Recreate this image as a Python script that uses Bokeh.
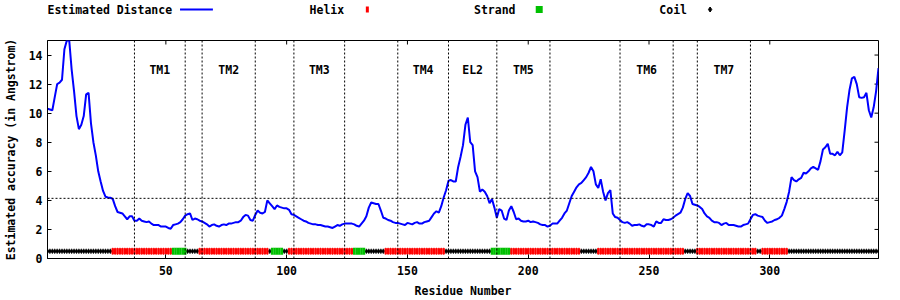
import math
from bokeh.plotting import figure
from bokeh.models import Range1d, Span, FixedTicker
from bokeh.layouts import column
from bokeh.core.properties import value
from bokeh.embed import file_html
from bokeh.resources import INLINE

# ---------------- data ----------------
residues = list(range(1, 346))
distance = [
    10.3, 10.25, 10.2, 11.1, 12.0, 12.1, 12.3, 14.4, 15.0, 15.0,
    13.0, 11.5, 9.8, 8.9, 9.2, 9.8, 11.3, 11.4, 9.3, 8.0,
    7.1, 6.0, 5.3, 4.65, 4.25, 4.2, 4.18, 4.1, 3.6, 3.2,
    3.15, 3.1, 2.9, 2.7, 2.9, 2.9, 2.6, 2.6, 2.75, 2.6,
    2.55, 2.5, 2.55, 2.4, 2.3, 2.3, 2.3, 2.2, 2.2, 2.2,
    2.1, 2.05, 2.3, 2.35, 2.4, 2.5, 2.7, 2.95, 3.05, 3.1,
    2.65, 2.75, 2.7, 2.6, 2.55, 2.45, 2.35, 2.2, 2.3, 2.35,
    2.25, 2.2, 2.3, 2.35, 2.3, 2.4, 2.4, 2.45, 2.5, 2.5,
    2.6, 2.85, 3.0, 2.95, 2.65, 2.6, 3.0, 3.3, 3.15, 3.1,
    3.2, 4.0, 3.8, 3.6, 3.4, 3.65, 3.55, 3.5, 3.45, 3.45,
    3.35, 3.05, 3.0, 2.9, 2.8, 2.7, 2.6, 2.55, 2.45, 2.4,
    2.35, 2.35, 2.3, 2.3, 2.25, 2.2, 2.2, 2.15, 2.1, 2.2,
    2.3, 2.25, 2.35, 2.4, 2.4, 2.4, 2.4, 2.35, 2.25, 2.2,
    2.4, 2.6, 2.9, 3.5, 3.85, 3.8, 3.75, 3.75, 3.3, 2.8,
    2.75, 2.65, 2.6, 2.5, 2.45, 2.45, 2.4, 2.35, 2.3, 2.45,
    2.4, 2.35, 2.45, 2.5, 2.4, 2.4, 2.5, 2.55, 2.6, 2.85,
    3.1, 3.25, 3.15, 3.6, 4.2, 4.7, 5.35, 5.4, 5.3, 5.3,
    6.3, 7.0, 7.8, 9.2, 9.7, 8.0, 7.8, 6.0, 5.6, 4.6,
    4.75, 4.6, 4.3, 3.8, 4.1, 3.5, 2.8, 3.4, 3.3, 2.75,
    2.65, 3.3, 3.6, 3.2, 2.7, 2.75, 2.6, 2.55, 2.55, 2.6,
    2.5, 2.55, 2.5, 2.45, 2.35, 2.3, 2.3, 2.2, 2.25, 2.4,
    2.4, 2.4, 2.6, 2.8, 3.1, 3.3, 3.8, 4.3, 4.6, 4.9,
    5.1, 5.2, 5.4, 5.6, 5.9, 6.3, 6.0, 5.1, 4.85, 5.45,
    4.6, 4.0, 4.5, 4.7, 3.1, 2.85, 2.8, 2.65, 2.5, 2.45,
    2.5, 2.4, 2.25, 2.3, 2.3, 2.35, 2.25, 2.2, 2.35, 2.35,
    2.3, 2.2, 2.55, 2.45, 2.45, 2.7, 2.65, 2.65, 2.7, 2.8,
    2.95, 3.05, 3.15, 3.5, 4.1, 4.5, 4.3, 3.75, 3.7, 3.65,
    3.55, 3.4, 3.1, 2.9, 2.8, 2.6, 2.5, 2.5, 2.45, 2.3,
    2.4, 2.45, 2.3, 2.3, 2.3, 2.25, 2.2, 2.2, 2.3, 2.35,
    2.4, 2.7, 3.0, 3.05, 2.95, 2.9, 2.85, 2.6, 2.45, 2.5,
    2.55, 2.65, 2.7, 2.8, 2.95, 3.4, 3.9, 4.6, 5.6, 5.4,
    5.3, 5.45, 5.55, 5.9, 5.85, 6.0, 6.2, 6.3, 6.2, 6.1,
    6.7, 7.5, 7.65, 7.9, 7.2, 7.2, 7.1, 7.35, 7.1, 7.3,
    8.8, 10.4, 11.6, 12.4, 12.5, 12.0, 11.1, 11.05, 11.1, 11.4,
    10.2, 9.7, 10.4, 11.5, 13.1,
]

ss_start = [1, 28, 53, 59, 64, 93, 94, 99, 101, 128, 133, 141, 166, 185, 193, 222, 229, 265, 270, 295, 297, 308]
ss_end   = [27, 52, 58, 63, 92, 93, 98, 100, 127, 132, 140, 165, 184, 192, 221, 228, 264, 269, 294, 296, 307, 345]
ss_type  = ["C", "H", "E", "C", "H", "C", "E", "C", "H", "E", "C", "H", "C", "E", "H", "C", "H", "C", "H", "C", "H", "C"]

region_names = ["TM1", "TM2", "TM3", "TM4", "EL2", "TM5", "TM6", "TM7"]
region_start = [37, 65, 103, 146, 167, 187, 238, 270]
region_end   = [58, 87, 124, 167, 187, 209, 260, 292]

threshold = 4.14
ss_level = 0.5
x_ticks = [50, 100, 150, 200, 250, 300]
y_ticks = [0, 2, 4, 6, 8, 10, 12, 14]

legend_labels = ["Estimated Distance", "Helix", "Strand", "Coil"]

# ---------------- style ----------------
FONT = value("DejaVu Sans Mono")
FS = "11.5px"
X0, X1 = 1, 345
Y0, Y1 = 0, 15


def per_residue(kind):
    out = []
    for s, e, t in zip(ss_start, ss_end, ss_type):
        if t == kind:
            out.extend(range(s, e + 1))
    return out


helix_x = per_residue("H")
strand_x = per_residue("E")
coil_x = per_residue("C")

p = figure(width=900, height=280, x_range=Range1d(X0, X1), y_range=Range1d(Y0, Y1),
           output_backend="svg", toolbar_location=None,
           min_border_left=44, min_border_right=22, min_border_top=20, min_border_bottom=42,
           background_fill_color="white", border_fill_color="white")
p.grid.visible = False
p.outline_line_color = "black"
p.outline_line_width = 1

for ax in (p.xaxis[0], p.yaxis[0]):
    ax.major_tick_in = 4
    ax.major_tick_out = 0
    ax.minor_tick_line_color = None
    ax.axis_line_color = "black"
    ax.major_label_text_font = "DejaVu Sans Mono"
    ax.major_label_text_font_style = "bold"
    ax.major_label_text_font_size = FS
    ax.major_label_text_color = "black"
    ax.axis_label_text_font = "DejaVu Sans Mono"
    ax.axis_label_text_font_style = "bold"
    ax.axis_label_text_font_size = FS
    ax.axis_label_text_color = "black"
p.xaxis[0].ticker = FixedTicker(ticks=x_ticks)
p.yaxis[0].ticker = FixedTicker(ticks=y_ticks)
p.xaxis[0].axis_label = "Residue Number"
p.yaxis[0].axis_label = "Estimated accuracy (in Angstrom)"
p.xaxis[0].major_label_standoff = 7
p.yaxis[0].major_label_standoff = 5
p.xaxis[0].axis_label_standoff = 6
p.yaxis[0].axis_label_standoff = 8

# mirrored inward ticks on the right and top edges
p.ray(x=[X1] * len(y_ticks), y=y_ticks, length=4, length_units="screen",
      angle=math.pi, line_color="black", line_width=1)
p.ray(x=x_ticks, y=[Y1] * len(x_ticks), length=4, length_units="screen",
      angle=-math.pi / 2, line_color="black", line_width=1)

# boundaries
bounds = sorted(set(region_start) | set(region_end))
for b in bounds:
    p.add_layout(Span(location=b, dimension="height", line_color="black",
                      line_width=1, line_dash="2 2"))
p.add_layout(Span(location=threshold, dimension="width", line_color="black",
                  line_width=1, line_dash="2 2"))

# region labels
centers = [(s + e) / 2 for s, e in zip(region_start, region_end)]
p.text(x=centers, y=[13] * len(centers), text=region_names, text_font=FONT,
       text_font_style="bold", text_font_size=FS, text_align="center",
       text_baseline="middle", text_color="black")

# distance curve
p.line(residues, distance, line_color="#0000ff", line_width=2)

# secondary structure
p.scatter(coil_x, [ss_level] * len(coil_x), marker="diamond", size=5,
          fill_color="black", line_color="black", line_width=0.5)
p.rect(helix_x, [ss_level] * len(helix_x), width=1, height=6, height_units="screen",
       fill_color="#ff0000", line_color=None)
p.rect(helix_x, [ss_level] * len(helix_x), width=0.4, height=7, height_units="screen",
       fill_color="#ff0000", line_color=None)
p.rect(strand_x, [ss_level] * len(strand_x), width=1.05, height=7, height_units="screen",
       fill_color="#00c000", line_color=None)

# ---------------- legend strip ----------------
# its frame is aligned with the main frame (pixels 44..878), so use pixel coordinates
lg = figure(width=900, height=20, x_range=Range1d(44, 878), y_range=Range1d(20, 0),
            output_backend="svg", toolbar_location=None,
            min_border_left=44, min_border_right=22, min_border_top=0, min_border_bottom=0,
            x_axis_location=None, y_axis_location=None,
            background_fill_color="white", border_fill_color="white")
lg.grid.visible = False
lg.outline_line_color = None
lg.text(x=[44, 307, 472, 658], y=[9, 9, 9, 9], text=legend_labels, text_font=FONT,
        text_font_style="bold", text_font_size=FS, text_align="left",
        text_baseline="middle", text_color="black")
lg.line([177, 210], [9, 9], line_color="#0000ff", line_width=2)
lg.rect([365], [9], width=3, height=6, fill_color="#ff0000", line_color=None)
lg.rect([537.5], [9], width=7, height=7, fill_color="#00c000", line_color=None)
lg.scatter([709], [9], marker="diamond", size=5, fill_color="black", line_color="black")

layout = column(lg, p, spacing=0)
open("out.html", "w").write(file_html(layout, INLINE))
